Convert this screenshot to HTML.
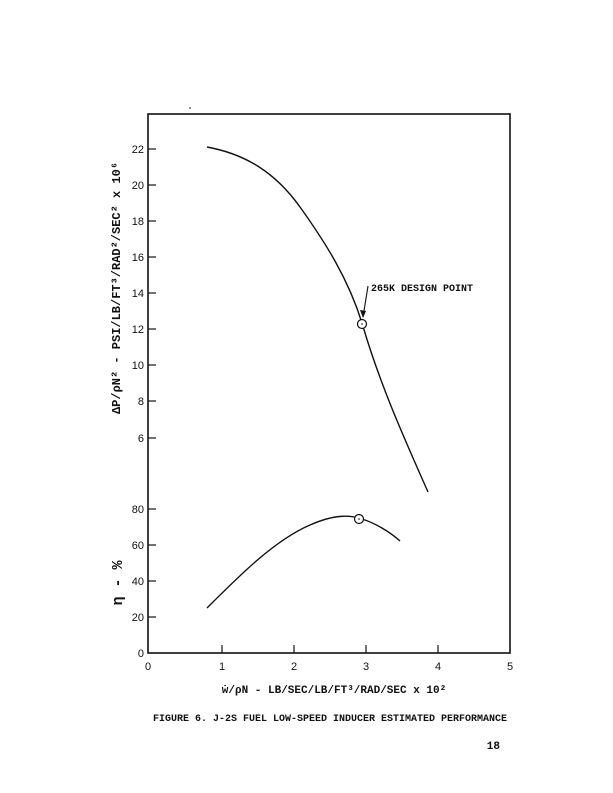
<!DOCTYPE html>
<html><head><style>body{margin:0;background:#fff}svg{display:block}</style></head><body>
<svg width="613" height="793" viewBox="0 0 613 793" xmlns="http://www.w3.org/2000/svg" font-family="Liberation Mono, monospace" fill="#111">
<rect x="148" y="114" width="362" height="539" fill="none" stroke="#111" stroke-width="1.6"/>
<circle cx="190" cy="108" r="0.8"/>
<g stroke="#111" stroke-width="1.2">
<line x1="148" y1="149" x2="156" y2="149"/><line x1="148" y1="185" x2="156" y2="185"/><line x1="148" y1="221" x2="156" y2="221"/><line x1="148" y1="257" x2="156" y2="257"/><line x1="148" y1="293" x2="156" y2="293"/><line x1="148" y1="329" x2="156" y2="329"/><line x1="148" y1="365" x2="156" y2="365"/><line x1="148" y1="401" x2="156" y2="401"/><line x1="148" y1="438" x2="156" y2="438"/>
<line x1="148" y1="509" x2="156" y2="509"/><line x1="148" y1="545" x2="156" y2="545"/><line x1="148" y1="581" x2="156" y2="581"/><line x1="148" y1="617" x2="156" y2="617"/>
<line x1="222" y1="653" x2="222" y2="645"/><line x1="294" y1="653" x2="294" y2="645"/><line x1="366" y1="653" x2="366" y2="645"/><line x1="438" y1="653" x2="438" y2="645"/>
</g>
<g font-family="Liberation Sans, sans-serif" font-size="11" text-anchor="end">
<text x="144" y="153">22</text><text x="144" y="189">20</text><text x="144" y="225">18</text><text x="144" y="261">16</text><text x="144" y="297">14</text><text x="144" y="333">12</text><text x="144" y="369">10</text><text x="144" y="405">8</text><text x="144" y="442">6</text>
<text x="144" y="513">80</text><text x="144" y="549">60</text><text x="144" y="585">40</text><text x="144" y="621">20</text><text x="144" y="657">0</text>
</g>
<g font-family="Liberation Sans, sans-serif" font-size="11" text-anchor="middle">
<text x="148" y="670">0</text><text x="222" y="670">1</text><text x="294" y="670">2</text><text x="366" y="670">3</text><text x="438" y="670">4</text><text x="510" y="670">5</text>
</g>
<path d="M207,147 C245,154 275,172 300,207 C325,242 348,278 362,323 C380,385 405,440 428,492" fill="none" stroke="#111" stroke-width="1.4"/>
<path d="M207,608 C240,575 275,540 310,525 C335,514 350,515 362,519 C375,523 390,532 400,541" fill="none" stroke="#111" stroke-width="1.4"/>
<circle cx="362" cy="324" r="4.5" fill="#fff" stroke="#111" stroke-width="1.2"/><circle cx="362" cy="324" r="0.8"/>
<circle cx="359" cy="519" r="4.5" fill="#fff" stroke="#111" stroke-width="1.2"/><circle cx="359" cy="519" r="0.8"/>
<line x1="368" y1="286" x2="363" y2="317" stroke="#111" stroke-width="1.1"/>
<path d="M363,318 L360,310 L366,311 Z"/>
<text x="371" y="291" font-size="10" font-weight="bold">265K DESIGN POINT</text>
<text transform="translate(120,288) rotate(-90)" font-size="12" font-weight="bold" text-anchor="middle">ΔP/ρN² - PSI/LB/FT³/RAD²/SEC² x 10⁶</text>
<text transform="translate(122,583) rotate(-90)" font-size="15" font-weight="bold" text-anchor="middle">η - %</text>
<text x="334" y="693" font-size="11" font-weight="bold" text-anchor="middle">ẇ/ρN - LB/SEC/LB/FT³/RAD/SEC x 10²</text>
<text x="330" y="721" font-size="10" font-weight="bold" text-anchor="middle">FIGURE 6.  J-2S FUEL LOW-SPEED INDUCER ESTIMATED PERFORMANCE</text>
<text x="500" y="749" font-size="11" font-weight="bold" text-anchor="end">18</text>
</svg>
</body></html>
